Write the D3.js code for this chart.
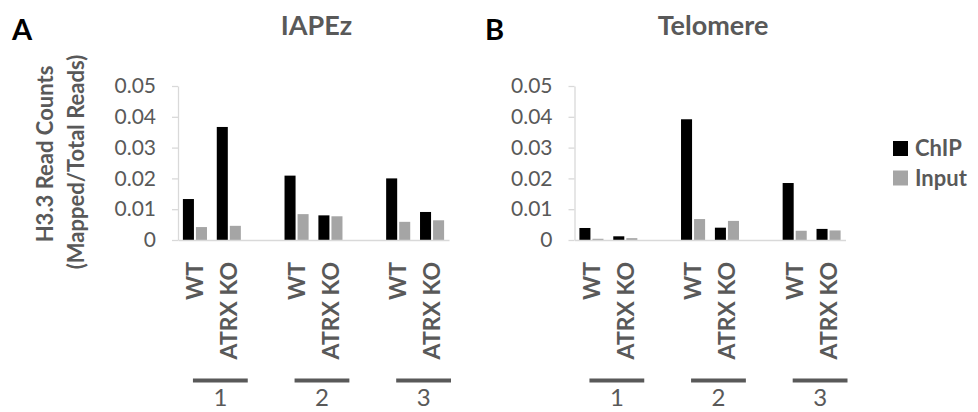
<!DOCTYPE html>
<html>
<head>
<meta charset="utf-8">
<script src="https://cdn.jsdelivr.net/npm/d3@7"></script>
<style>
  html, body { margin: 0; padding: 0; background: #fff; }
  svg { display: block; }
  text { font-family: Lato, "Open Sans", sans-serif; }
</style>
</head>
<body>
<svg id="chart" width="978" height="412"></svg>
<script>
// ---------- data ----------
const replicates = ["1", "2", "3"];
const genotypes = ["WT", "ATRX KO"];
const seriesNames = ["ChIP", "Input"];
const yTicks = [0, 0.01, 0.02, 0.03, 0.04, 0.05];
const panelTitles = ["IAPEz", "Telomere"];
const panelLetters = ["A", "B"];
const yTitleLines = ["H3.3 Read Counts", "(Mapped/Total Reads)"];

// order: rep1 WT, rep1 ATRX KO, rep2 WT, rep2 ATRX KO, rep3 WT, rep3 ATRX KO
const iapezChIP      = [0.0133, 0.0367, 0.0209, 0.0080, 0.0200, 0.0091];
const iapezInput     = [0.0042, 0.0046, 0.0084, 0.0077, 0.0059, 0.0064];
const telomereChIP   = [0.0039, 0.0012, 0.0392, 0.0040, 0.0185, 0.0036];
const telomereInput  = [0.0004, 0.0006, 0.0068, 0.0062, 0.0030, 0.0031];

// ---------- styles ----------
const textGray = "#595959";
const axisGray = "#d9d9d9";
const colors = { ChIP: "#000000", Input: "#a5a5a5" };

const svg = d3.select("#chart");

// slot domain: each replicate gives WT, ATRX KO, then an empty spacer slot
const slots = [];
replicates.forEach((r, i) => {
  genotypes.forEach(g => slots.push(r + "|" + g));
  if (i < replicates.length - 1) slots.push("gap" + i);
});

const plotTop = 86, plotBottom = 240, plotW = 271;
const y = d3.scaleLinear().domain([0, 0.05]).range([plotBottom, plotTop]);

function drawPanel(left, chip, input, title, letter, letterX) {
  const g = svg.append("g");
  const x0 = d3.scaleBand().domain(slots).range([left, left + plotW]).padding(0);
  const bw = x0.bandwidth();
  const x1 = d3.scaleBand().domain(seriesNames).range([4.9, bw - 4.9]).paddingInner(0.154);

  // y axis
  const yAxis = d3.axisLeft(y).tickValues(yTicks).tickSizeInner(6).tickSizeOuter(0).tickPadding(16)
    .tickFormat(d => d === 0 ? "0" : d3.format(".2f")(d));
  const ya = g.append("g").attr("transform", `translate(${left},0)`).call(yAxis);
  ya.select(".domain").attr("stroke", axisGray).attr("stroke-width", 1.3);
  ya.selectAll(".tick line").attr("stroke", axisGray).attr("stroke-width", 1.3);
  ya.selectAll(".tick text").attr("fill", textGray).style("font-size", "21px").style("font-family", "Lato");

  // bars
  const rows = [];
  replicates.forEach((r, i) => {
    genotypes.forEach((gt, j) => {
      const k = i * genotypes.length + j;
      rows.push({ slot: r + "|" + gt, series: "ChIP", v: chip[k] });
      rows.push({ slot: r + "|" + gt, series: "Input", v: input[k] });
    });
  });
  g.selectAll("rect.bar").data(rows).enter().append("rect")
    .attr("class", "bar")
    .attr("x", d => x0(d.slot) + x1(d.series))
    .attr("width", x1.bandwidth())
    .attr("y", d => y(d.v))
    .attr("height", d => y(0) - y(d.v))
    .attr("fill", d => colors[d.series]);

  // x axis baseline
  const xa = g.append("g").attr("transform", `translate(0,${plotBottom})`)
    .call(d3.axisBottom(x0).tickSize(0).tickSizeOuter(0).tickFormat(""));
  xa.select(".domain").attr("stroke", axisGray).attr("stroke-width", 1.5);

  // category labels (rotated)
  replicates.forEach(r => {
    genotypes.forEach(gt => {
      const cx = x0(r + "|" + gt) + bw / 2;
      g.append("text")
        .attr("transform", `translate(${cx},262) rotate(-90)`)
        .attr("text-anchor", "end")
        .attr("dy", "0.36em")
        .attr("fill", textGray)
        .style("font-size", "23px").style("font-weight", "bold")
        .text(gt);
    });
    // group line and number
    const xs = x0(r + "|" + genotypes[0]) + bw / 2 - 2;
    const xe = x0(r + "|" + genotypes[genotypes.length - 1]) + bw + 2;
    g.append("line").attr("x1", xs).attr("x2", xe).attr("y1", 380.5).attr("y2", 380.5)
      .attr("stroke", textGray).attr("stroke-width", 4);
    g.append("text").attr("x", (xs + xe) / 2).attr("y", 406)
      .attr("text-anchor", "middle").attr("fill", textGray)
      .style("font-size", "24px").text(r);
  });

  // title
  g.append("text").attr("x", left + plotW / 2 + 3).attr("y", 35)
    .attr("text-anchor", "middle").attr("fill", textGray)
    .style("font-size", "27px").style("font-weight", "bold").text(title);
  // panel letter
  g.append("text").attr("x", letterX).attr("y", 40)
    .attr("fill", "#000").style("font-size", "29px").style("font-weight", "bold").text(letter);
}

drawPanel(178, iapezChIP, iapezInput, panelTitles[0], panelLetters[0], 12);
drawPanel(574.5, telomereChIP, telomereInput, panelTitles[1], panelLetters[1], 485);

// y axis title (two lines)
svg.append("text").attr("transform", "translate(53,154) rotate(-90)")
  .attr("text-anchor", "middle").attr("fill", textGray)
  .style("font-size", "22px").style("font-weight", "bold").text(yTitleLines[0]);
svg.append("text").attr("transform", "translate(84,162) rotate(-90)")
  .attr("text-anchor", "middle").attr("fill", textGray)
  .style("font-size", "22px").style("font-weight", "bold").text(yTitleLines[1]);

// legend
const lg = svg.append("g").attr("transform", "translate(893,141)");
seriesNames.forEach((s, i) => {
  lg.append("rect").attr("x", 0).attr("y", i * 29.5).attr("width", 15).attr("height", 15).attr("fill", colors[s]);
  lg.append("text").attr("x", 22).attr("y", i * 29.5 + 15)
    .attr("fill", textGray).style("font-size", "22px").style("font-weight", "bold").text(s);
});
</script>
</body>
</html>
